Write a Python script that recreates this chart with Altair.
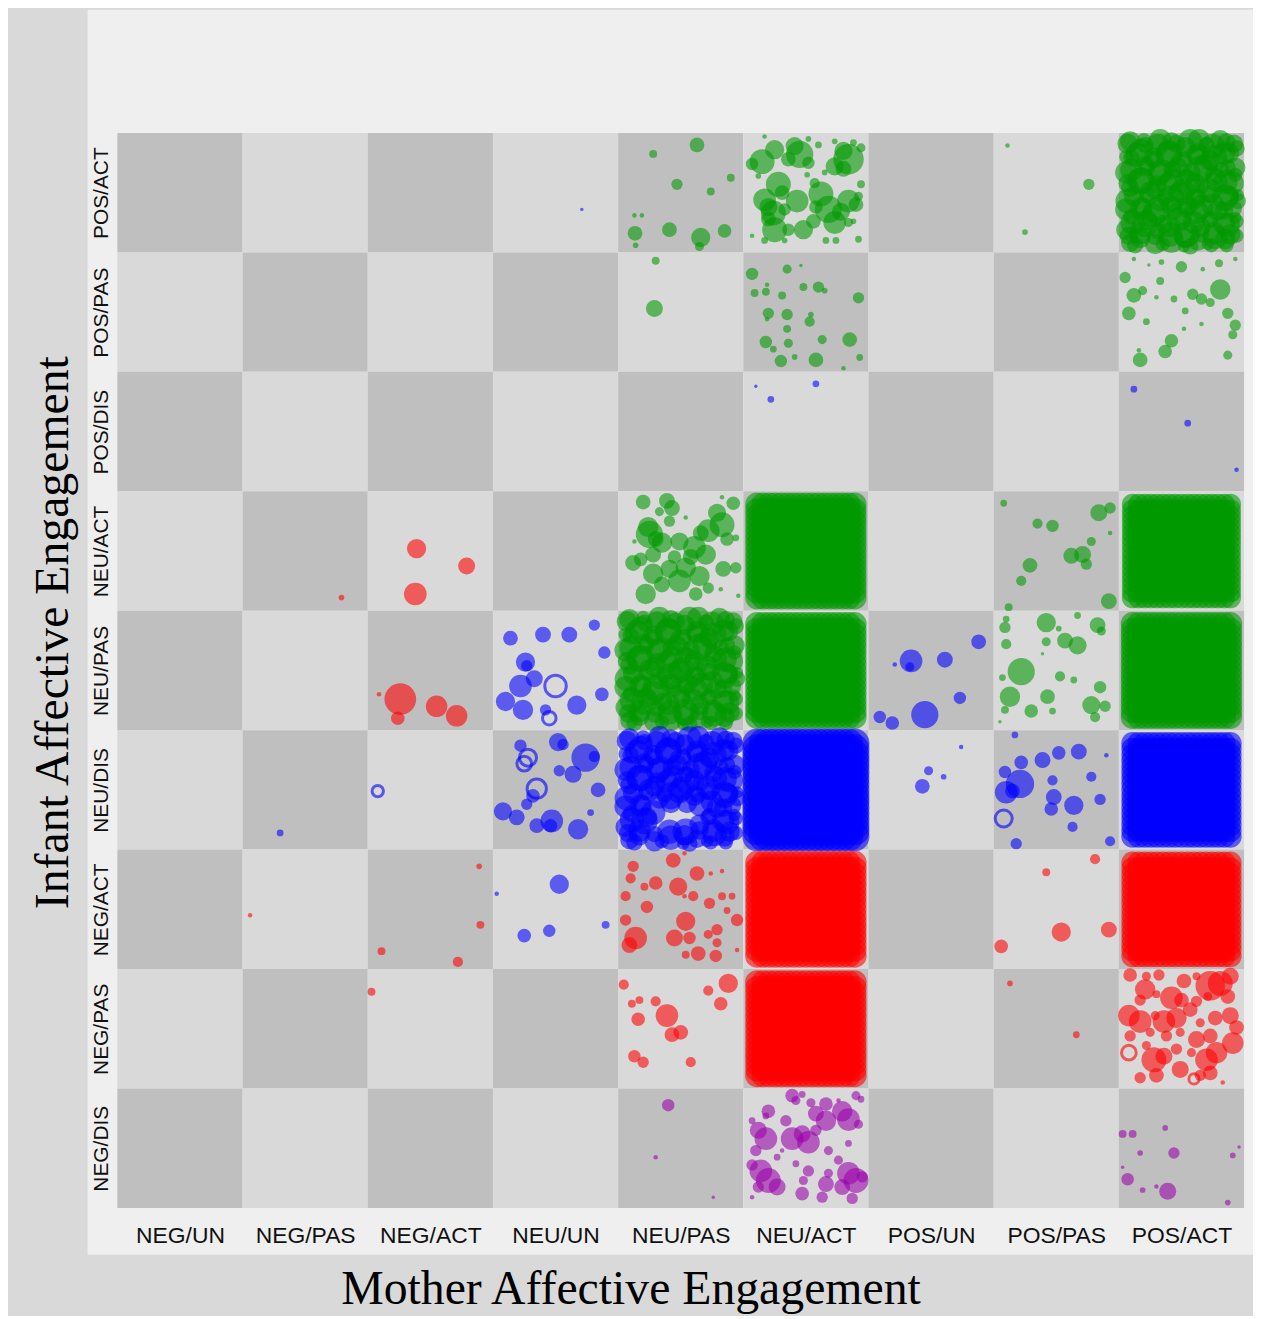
import altair as alt
import pandas as pd

# ---------------- data ----------------
MOTHER = ["NEG/UN", "NEG/PAS", "NEG/ACT", "NEU/UN", "NEU/PAS", "NEU/ACT",
          "POS/UN", "POS/PAS", "POS/ACT"]
# infant categories, top row first
INFANT = ["POS/ACT", "POS/PAS", "POS/DIS", "NEU/ACT", "NEU/PAS", "NEU/DIS",
          "NEG/ACT", "NEG/PAS", "NEG/DIS"]
GROUPS = ["green", "blue", "red", "purple"]
GROUP_COLORS = ["#009a00", "#0000ff", "#ff0000", "#9a00aa"]

# (mother, infant, group, [(jitter_x, jitter_y, weight), ...])
SPARSE = [
    ("NEU/UN", "POS/ACT", "blue", [(0.71, 0.64, 3)]),
    ("NEU/PAS", "POS/ACT", "green", [
        (0.63, 0.10, 13), (0.28, 0.175, 7), (0.47, 0.43, 10), (0.90, 0.375, 7),
        (0.74, 0.49, 7), (0.13, 0.69, 4), (0.19, 0.69, 4), (0.135, 0.84, 13),
        (0.41, 0.81, 13), (0.66, 0.875, 17), (0.65, 0.95, 8), (0.85, 0.82, 12),
        (0.14, 0.94, 5)]),
    ("NEU/ACT", "POS/ACT", "green", [
        (0.15, 0.24, 22), (0.25, 0.14, 17), (0.45, 0.18, 24), (0.41, 0.11, 16),
        (0.84, 0.22, 27), (0.80, 0.15, 16), (0.73, 0.28, 16), (0.28, 0.43, 22),
        (0.17, 0.56, 20), (0.24, 0.67, 22), (0.25, 0.81, 22), (0.43, 0.57, 20),
        (0.48, 0.81, 17), (0.62, 0.51, 22), (0.68, 0.64, 24), (0.73, 0.75, 20),
        (0.84, 0.57, 20), (0.90, 0.60, 13), (0.36, 0.81, 11), (0.56, 0.74, 13),
        (0.07, 0.26, 11), (0.36, 0.22, 13), (0.52, 0.25, 11), (0.57, 0.42, 9),
        (0.31, 0.50, 13), (0.20, 0.72, 13), (0.33, 0.64, 11), (0.17, 0.03, 4),
        (0.52, 0.05, 5), (0.60, 0.10, 6), (0.73, 0.07, 5), (0.88, 0.08, 6),
        (0.94, 0.125, 8), (0.12, 0.36, 5), (0.51, 0.35, 5), (0.65, 0.33, 5),
        (0.94, 0.43, 7), (0.88, 0.74, 5), (0.07, 0.86, 4), (0.66, 0.90, 6),
        (0.74, 0.90, 6), (0.92, 0.89, 6), (0.17, 0.90, 6), (0.33, 0.90, 5),
        (0.84, 0.75, 8), (0.92, 0.53, 8), (0.20, 0.62, 16), (0.78, 0.66, 16),
        (0.58, 0.62, 12), (0.80, 0.30, 14)]),
    ("POS/PAS", "POS/ACT", "green", [(0.11, 0.105, 4), (0.76, 0.43, 10), (0.25, 0.83, 5)]),
    ("NEU/PAS", "POS/PAS", "green", [(0.30, 0.07, 7), (0.29, 0.47, 15)]),
    ("NEU/ACT", "POS/PAS", "green", [
        (0.07, 0.18, 11), (0.35, 0.14, 8), (0.46, 0.11, 3), (0.19, 0.27, 4),
        (0.18, 0.33, 7), (0.09, 0.34, 7), (0.31, 0.36, 7), (0.48, 0.29, 7),
        (0.60, 0.29, 10), (0.65, 0.32, 5), (0.92, 0.38, 10), (0.20, 0.51, 10),
        (0.35, 0.52, 10), (0.54, 0.52, 5), (0.53, 0.58, 9), (0.19, 0.56, 4),
        (0.35, 0.64, 7), (0.18, 0.75, 11), (0.36, 0.76, 8), (0.24, 0.81, 6),
        (0.63, 0.73, 8), (0.85, 0.73, 13), (0.30, 0.91, 11), (0.41, 0.875, 5),
        (0.58, 0.90, 13), (0.80, 0.97, 4), (0.93, 0.88, 6)]),
    ("POS/ACT", "POS/PAS", "green", [
        (0.12, 0.055, 4), (0.24, 0.105, 3), (0.34, 0.08, 5), (0.50, 0.12, 10),
        (0.67, 0.14, 4), (0.80, 0.09, 7), (0.93, 0.055, 4), (0.05, 0.21, 10),
        (0.33, 0.24, 7), (0.12, 0.36, 13), (0.19, 0.32, 8), (0.30, 0.375, 4),
        (0.44, 0.39, 6), (0.53, 0.49, 6), (0.59, 0.35, 10), (0.66, 0.39, 10),
        (0.73, 0.42, 8), (0.81, 0.31, 18), (0.87, 0.51, 10), (0.93, 0.61, 10),
        (0.91, 0.69, 8), (0.08, 0.51, 12), (0.22, 0.58, 6), (0.52, 0.64, 4),
        (0.66, 0.60, 4), (0.42, 0.74, 12), (0.37, 0.83, 12), (0.16, 0.82, 4),
        (0.17, 0.90, 13), (0.87, 0.86, 8)]),
    ("NEU/ACT", "POS/DIS", "blue", [(0.10, 0.12, 3), (0.22, 0.23, 6), (0.58, 0.10, 6)]),
    ("POS/ACT", "POS/DIS", "blue", [(0.12, 0.145, 6), (0.55, 0.43, 6), (0.94, 0.82, 4)]),
    ("NEG/PAS", "NEU/ACT", "red", [(0.79, 0.89, 5)]),
    ("NEG/ACT", "NEU/ACT", "red", [(0.39, 0.48, 17), (0.79, 0.625, 15), (0.38, 0.86, 20)]),
    ("NEU/PAS", "NEU/ACT", "green", [
        (0.20, 0.09, 13), (0.39, 0.08, 14), (0.43, 0.14, 14), (0.33, 0.17, 8),
        (0.92, 0.10, 12), (0.83, 0.05, 4), (0.54, 0.22, 4), (0.79, 0.18, 16),
        (0.83, 0.28, 22), (0.72, 0.33, 20), (0.66, 0.35, 14), (0.41, 0.25, 10),
        (0.25, 0.36, 24), (0.35, 0.43, 18), (0.49, 0.42, 16), (0.61, 0.47, 20),
        (0.70, 0.53, 18), (0.87, 0.40, 12), (0.94, 0.39, 6), (0.13, 0.42, 4),
        (0.12, 0.60, 14), (0.18, 0.57, 12), (0.28, 0.69, 18), (0.41, 0.65, 16),
        (0.54, 0.64, 18), (0.65, 0.71, 18), (0.49, 0.75, 20), (0.35, 0.78, 14),
        (0.22, 0.86, 18), (0.62, 0.86, 12), (0.72, 0.81, 10), (0.84, 0.65, 14),
        (0.94, 0.64, 10), (0.82, 0.82, 4), (0.96, 0.875, 4), (0.28, 0.53, 14),
        (0.24, 0.30, 18), (0.30, 0.40, 14), (0.58, 0.55, 14), (0.45, 0.55, 12)]),
    ("POS/PAS", "NEU/ACT", "green", [
        (0.08, 0.10, 6), (0.35, 0.27, 9), (0.47, 0.29, 11), (0.84, 0.18, 15),
        (0.93, 0.14, 10), (0.93, 0.35, 4), (0.78, 0.42, 8), (0.62, 0.54, 14),
        (0.71, 0.53, 15), (0.74, 0.61, 10), (0.29, 0.62, 13), (0.22, 0.75, 9),
        (0.12, 0.97, 7), (0.92, 0.92, 14)]),
    ("NEG/ACT", "NEU/PAS", "red", [(0.26, 0.74, 28), (0.24, 0.90, 12), (0.09, 0.70, 4),
                                   (0.55, 0.80, 19), (0.71, 0.88, 19)]),
    ("NEU/UN", "NEU/PAS", "blue", [
        (0.14, 0.23, 13), (0.40, 0.20, 14), (0.61, 0.20, 14), (0.81, 0.12, 10),
        (0.89, 0.35, 11), (0.26, 0.43, 17), (0.27, 0.46, 10), (0.33, 0.57, 15),
        (0.22, 0.63, 20), (0.10, 0.76, 17), (0.24, 0.83, 18), (0.42, 0.83, 10),
        (0.67, 0.79, 17), (0.87, 0.70, 12)]),
    ("POS/UN", "NEU/PAS", "blue", [
        (0.88, 0.26, 13), (0.34, 0.42, 20), (0.33, 0.47, 8), (0.61, 0.41, 14),
        (0.21, 0.45, 4), (0.73, 0.73, 11), (0.45, 0.87, 24), (0.09, 0.89, 11),
        (0.19, 0.94, 12)]),
    ("POS/PAS", "NEU/PAS", "green", [
        (0.10, 0.07, 6), (0.09, 0.14, 10), (0.42, 0.10, 17), (0.52, 0.15, 5),
        (0.67, 0.04, 6), (0.83, 0.12, 14), (0.86, 0.17, 8), (0.10, 0.28, 9),
        (0.42, 0.26, 8), (0.57, 0.25, 14), (0.67, 0.29, 16), (0.39, 0.36, 3),
        (0.22, 0.51, 24), (0.07, 0.56, 6), (0.53, 0.55, 9), (0.64, 0.58, 6),
        (0.85, 0.64, 11), (0.13, 0.72, 18), (0.43, 0.72, 13), (0.09, 0.83, 7),
        (0.30, 0.84, 12), (0.47, 0.84, 6), (0.78, 0.79, 16), (0.89, 0.80, 10),
        (0.81, 0.89, 9), (0.05, 0.93, 3)]),
    ("NEG/PAS", "NEU/DIS", "blue", [(0.30, 0.86, 6)]),
    ("NEU/UN", "NEU/DIS", "blue", [
        (0.22, 0.13, 11), (0.52, 0.10, 16), (0.56, 0.12, 10), (0.74, 0.23, 25),
        (0.81, 0.22, 10), (0.53, 0.34, 10), (0.64, 0.37, 15), (0.32, 0.55, 12),
        (0.27, 0.62, 10), (0.84, 0.50, 13), (0.08, 0.68, 16), (0.19, 0.73, 14),
        (0.35, 0.80, 13), (0.47, 0.76, 20), (0.46, 0.80, 12), (0.68, 0.83, 18),
        (0.78, 0.69, 6)]),
    ("POS/UN", "NEU/DIS", "blue", [(0.74, 0.14, 4), (0.48, 0.34, 8), (0.60, 0.39, 5),
                                   (0.43, 0.47, 13)]),
    ("POS/PAS", "NEU/DIS", "blue", [
        (0.17, 0.04, 6), (0.52, 0.19, 12), (0.68, 0.18, 14), (0.90, 0.21, 4),
        (0.22, 0.27, 12), (0.39, 0.25, 14), (0.09, 0.35, 11), (0.47, 0.42, 9),
        (0.78, 0.39, 9), (0.21, 0.45, 25), (0.10, 0.52, 20), (0.15, 0.51, 13),
        (0.48, 0.56, 14), (0.64, 0.63, 17), (0.85, 0.58, 10), (0.46, 0.66, 12),
        (0.63, 0.81, 9), (0.18, 0.95, 10), (0.93, 0.93, 9)]),
    ("NEG/PAS", "NEG/ACT", "red", [(0.06, 0.55, 4)]),
    ("NEG/ACT", "NEG/ACT", "red", [(0.89, 0.14, 5), (0.90, 0.63, 7), (0.11, 0.85, 7),
                                   (0.72, 0.94, 9)]),
    ("NEU/UN", "NEG/ACT", "blue", [(0.53, 0.29, 17), (0.03, 0.37, 4), (0.25, 0.72, 12),
                                   (0.45, 0.68, 11), (0.90, 0.63, 7)]),
    ("NEU/PAS", "NEG/ACT", "red", [
        (0.12, 0.14, 10), (0.10, 0.24, 9), (0.44, 0.09, 13), (0.53, 0.03, 4),
        (0.21, 0.31, 7), (0.30, 0.28, 12), (0.48, 0.31, 16), (0.63, 0.20, 13),
        (0.74, 0.20, 4), (0.83, 0.18, 4), (0.06, 0.39, 9), (0.23, 0.48, 11),
        (0.53, 0.39, 4), (0.60, 0.39, 9), (0.73, 0.45, 10), (0.83, 0.39, 7),
        (0.91, 0.39, 6), (0.87, 0.51, 6), (0.95, 0.59, 11), (0.54, 0.60, 17),
        (0.06, 0.59, 10), (0.14, 0.74, 20), (0.09, 0.80, 14), (0.45, 0.74, 15),
        (0.57, 0.74, 11), (0.79, 0.67, 10), (0.72, 0.71, 8), (0.79, 0.78, 8),
        (0.64, 0.87, 13), (0.78, 0.89, 11), (0.54, 0.88, 7), (0.95, 0.84, 4)]),
    ("POS/PAS", "NEG/ACT", "red", [(0.81, 0.08, 9), (0.42, 0.19, 7), (0.54, 0.69, 17),
                                   (0.92, 0.67, 14), (0.06, 0.81, 12)]),
    ("NEG/ACT", "NEG/PAS", "red", [(0.03, 0.19, 7)]),
    ("NEU/PAS", "NEG/PAS", "red", [
        (0.045, 0.13, 9), (0.11, 0.29, 7), (0.17, 0.26, 7), (0.30, 0.27, 9),
        (0.16, 0.42, 12), (0.39, 0.39, 20), (0.43, 0.55, 13), (0.50, 0.53, 13),
        (0.72, 0.18, 9), (0.88, 0.12, 17), (0.82, 0.29, 12), (0.13, 0.73, 11),
        (0.20, 0.78, 10), (0.58, 0.78, 9)]),
    ("POS/PAS", "NEG/PAS", "red", [(0.13, 0.12, 5), (0.66, 0.55, 6)]),
    ("POS/ACT", "NEG/PAS", "red", [
        (0.09, 0.05, 12), (0.22, 0.06, 8), (0.32, 0.05, 10), (0.52, 0.10, 13),
        (0.62, 0.06, 7), (0.73, 0.14, 26), (0.81, 0.12, 22), (0.89, 0.06, 15),
        (0.21, 0.17, 18), (0.30, 0.21, 7), (0.17, 0.26, 10), (0.42, 0.24, 20),
        (0.50, 0.26, 13), (0.62, 0.27, 10), (0.71, 0.23, 8), (0.87, 0.23, 13),
        (0.08, 0.39, 19), (0.17, 0.44, 20), (0.29, 0.39, 8), (0.36, 0.44, 20),
        (0.46, 0.41, 18), (0.57, 0.34, 13), (0.65, 0.45, 8), (0.77, 0.41, 13),
        (0.89, 0.39, 15), (0.94, 0.49, 13), (0.09, 0.56, 10), (0.25, 0.53, 8),
        (0.38, 0.56, 10), (0.49, 0.53, 8), (0.62, 0.59, 15), (0.73, 0.56, 13),
        (0.91, 0.62, 19), (0.28, 0.76, 22), (0.36, 0.73, 15), (0.22, 0.64, 8),
        (0.46, 0.67, 10), (0.58, 0.70, 8), (0.70, 0.76, 20), (0.78, 0.70, 19),
        (0.17, 0.91, 10), (0.30, 0.89, 13), (0.49, 0.84, 15), (0.73, 0.87, 13),
        (0.83, 0.95, 4), (0.65, 0.89, 10)]),
    ("NEU/PAS", "NEG/DIS", "purple", [(0.40, 0.14, 11), (0.30, 0.575, 4), (0.76, 0.91, 3)]),
    ("NEU/ACT", "NEG/DIS", "purple", [
        (0.39, 0.06, 12), (0.47, 0.05, 6), (0.42, 0.10, 8), (0.54, 0.12, 8),
        (0.66, 0.13, 12), (0.76, 0.10, 4), (0.90, 0.06, 8), (0.94, 0.09, 6),
        (0.20, 0.19, 12), (0.18, 0.23, 6), (0.07, 0.27, 6), (0.34, 0.27, 10),
        (0.58, 0.21, 14), (0.66, 0.27, 18), (0.79, 0.19, 18), (0.84, 0.26, 20),
        (0.92, 0.30, 8), (0.12, 0.35, 15), (0.18, 0.42, 20), (0.10, 0.52, 10),
        (0.39, 0.42, 20), (0.47, 0.38, 15), (0.52, 0.45, 20), (0.58, 0.35, 10),
        (0.68, 0.52, 8), (0.84, 0.46, 6), (0.27, 0.575, 6), (0.07, 0.64, 10),
        (0.14, 0.69, 20), (0.20, 0.77, 22), (0.27, 0.825, 15), (0.12, 0.825, 10),
        (0.42, 0.63, 6), (0.52, 0.69, 10), (0.48, 0.77, 8), (0.68, 0.71, 8),
        (0.66, 0.80, 14), (0.84, 0.71, 20), (0.90, 0.77, 22), (0.79, 0.825, 14),
        (0.95, 0.74, 10), (0.63, 0.91, 10), (0.47, 0.88, 12), (0.87, 0.92, 10),
        (0.07, 0.91, 4), (0.31, 0.52, 4), (0.76, 0.60, 8)]),
    ("POS/ACT", "NEG/DIS", "purple", [
        (0.03, 0.38, 7), (0.11, 0.38, 7), (0.37, 0.33, 5), (0.17, 0.54, 5),
        (0.44, 0.54, 10), (0.91, 0.56, 5), (0.96, 0.49, 3), (0.03, 0.66, 3),
        (0.07, 0.76, 11), (0.19, 0.85, 5), (0.39, 0.86, 15), (0.30, 0.82, 4),
        (0.87, 0.955, 5)]),
]

# open (ring) points: (mother, infant, group, [(jitter_x, jitter_y, weight), ...])
OPEN = [
    ("NEU/UN", "NEU/PAS", "blue", [(0.50, 0.63, 19), (0.45, 0.90, 12)]),
    ("NEG/ACT", "NEU/DIS", "blue", [(0.08, 0.51, 10)]),
    ("NEU/UN", "NEU/DIS", "blue", [(0.28, 0.23, 15), (0.25, 0.28, 13), (0.35, 0.49, 17)]),
    ("POS/PAS", "NEU/DIS", "blue", [(0.08, 0.74, 15)]),
    ("POS/ACT", "NEG/PAS", "red", [(0.08, 0.70, 13), (0.60, 0.92, 9)]),
]

# saturated cells (thousands of overlapping points): (mother, infant, group, weight)
SATURATED = [
    ("NEU/ACT", "NEU/ACT", "green", 21), ("NEU/ACT", "NEU/PAS", "green", 21),
    ("NEU/ACT", "NEU/DIS", "blue", 26), ("NEU/ACT", "NEG/ACT", "red", 21),
    ("NEU/ACT", "NEG/PAS", "red", 21), ("POS/ACT", "NEU/ACT", "green", 19),
    ("POS/ACT", "NEU/PAS", "green", 21), ("POS/ACT", "NEU/DIS", "blue", 20),
    ("POS/ACT", "NEG/ACT", "red", 20),
]
SAT_JITTER = [0.11, 0.1585, 0.207, 0.2555, 0.304, 0.3525, 0.401, 0.4495, 0.50,
              0.5505, 0.599, 0.6475, 0.696, 0.7445, 0.793, 0.8415, 0.89]

# crowded (but not saturated) cells use this jitter cloud: (jitter_x, jitter_y, weight)
CLOUD = [
    (0.09, 0.07, 20), (0.21, 0.10, 16), (0.33, 0.06, 22), (0.46, 0.09, 18), (0.57, 0.07, 24),
    (0.70, 0.10, 16), (0.81, 0.06, 20), (0.92, 0.09, 18),
    (0.06, 0.20, 14), (0.15, 0.18, 24), (0.28, 0.21, 20), (0.40, 0.17, 26), (0.52, 0.22, 16),
    (0.63, 0.18, 22), (0.76, 0.21, 26), (0.88, 0.17, 20),
    (0.10, 0.31, 22), (0.22, 0.28, 16), (0.34, 0.32, 24), (0.47, 0.29, 20), (0.58, 0.33, 18),
    (0.69, 0.28, 24), (0.82, 0.31, 16), (0.93, 0.29, 20),
    (0.07, 0.42, 18), (0.18, 0.40, 26), (0.31, 0.43, 18), (0.43, 0.39, 22), (0.55, 0.42, 26),
    (0.66, 0.44, 16), (0.78, 0.40, 22), (0.90, 0.42, 24),
    (0.12, 0.53, 20), (0.25, 0.50, 22), (0.37, 0.54, 16), (0.49, 0.51, 24), (0.61, 0.55, 20),
    (0.73, 0.51, 18), (0.85, 0.54, 26), (0.95, 0.52, 12),
    (0.06, 0.64, 22), (0.19, 0.62, 18), (0.30, 0.65, 26), (0.42, 0.61, 20), (0.54, 0.64, 16),
    (0.66, 0.62, 24), (0.79, 0.65, 20), (0.91, 0.63, 18),
    (0.11, 0.75, 24), (0.23, 0.73, 20), (0.36, 0.76, 18), (0.48, 0.72, 24), (0.60, 0.75, 22),
    (0.72, 0.73, 16), (0.84, 0.76, 22), (0.94, 0.74, 14),
    (0.08, 0.86, 18), (0.17, 0.84, 22), (0.29, 0.87, 16), (0.41, 0.85, 24), (0.53, 0.88, 20),
    (0.65, 0.84, 18), (0.77, 0.87, 24), (0.89, 0.85, 20),
    (0.13, 0.94, 16), (0.35, 0.93, 14), (0.57, 0.95, 16), (0.71, 0.93, 12), (0.86, 0.94, 14),
]
# (mother, infant, group, weight factor, empty region x0, x1, y0, y1)
CROWDED = [
    ("POS/ACT", "POS/ACT", "green", 0.9, 0.0, 0.0, 0.0, 0.0),
    ("NEU/PAS", "NEU/PAS", "green", 0.9, 0.0, 0.0, 0.0, 0.0),
    ("NEU/PAS", "NEU/DIS", "blue", 0.9, 0.30, 0.62, 0.62, 0.84),
]

# ---------------- tables ----------------
pts, rings = [], []
for m, i, g, lst in SPARSE:
    for dx, dy, w in lst:
        pts.append({"x": MOTHER.index(m) + dx, "y": INFANT.index(i) + dy, "w": w, "grp": g})
for m, i, g, w in SATURATED:
    for dy in SAT_JITTER:
        for dx in SAT_JITTER:
            pts.append({"x": MOTHER.index(m) + dx, "y": INFANT.index(i) + dy, "w": w, "grp": g})
for m, i, g, f, x0, x1, y0, y1 in CROWDED:
    # the cloud is used twice (second time transposed) to reach the observed density
    for a, b, w in CLOUD:
        for dx, dy in ((a, b), (b, a)):
            if x0 <= dx <= x1 and y0 <= dy <= y1:
                continue
            pts.append({"x": MOTHER.index(m) + dx, "y": INFANT.index(i) + dy,
                        "w": w * f, "grp": g})
for m, i, g, lst in OPEN:
    for dx, dy, w in lst:
        rings.append({"x": MOTHER.index(m) + dx, "y": INFANT.index(i) + dy, "w": w, "grp": g})

cells = []
for r in range(len(INFANT)):
    for c in range(len(MOTHER)):
        cells.append({"x": c, "x2": c + 1, "y": r, "y2": r + 1,
                      "shade": "dark" if (r + c) % 2 == 0 else "light"})

df_pts = pd.DataFrame(pts)
df_rings = pd.DataFrame(rings)
df_cells = pd.DataFrame(cells)

# ---------------- chart ----------------
W, H = 1133, 1081
label_font = "Liberation Sans"

mother_expr = "[" + ",".join("'%s'" % s for s in MOTHER) + "][floor(datum.value)]"
infant_expr = "[" + ",".join("'%s'" % s for s in INFANT) + "][floor(datum.value)]"

x_axis = alt.Axis(values=[k + 0.5 for k in range(9)], labelExpr=mother_expr,
                  title="Mother Affective Engagement", grid=False, domain=False,
                  ticks=False, tickSize=0, labelPadding=35, labelBaseline="alphabetic",
                  labelFont=label_font, labelFontSize=23, labelColor="#111111",
                  labelOverlap=False, labelFlush=False, zindex=1,
                  titleFont="Liberation Serif", titleFontSize=48, titleFontWeight="normal",
                  titleColor="#000000", titleX=516, titleY=96, titleAlign="center",
                  titleBaseline="alphabetic")
y_axis = alt.Axis(values=[k + 0.5 for k in range(9)], labelExpr=infant_expr,
                  title="Infant Affective Engagement", grid=False, domain=False,
                  ticks=False, tickSize=0, labelPadding=10, labelAngle=270,
                  labelAlign="center", labelBaseline="alphabetic",
                  labelFont=label_font, labelFontSize=21, labelColor="#111111",
                  labelOverlap=False, labelFlush=False, zindex=1,
                  titleFont="Liberation Serif", titleFontSize=48, titleFontWeight="normal",
                  titleColor="#000000", titleAngle=270, titleX=-50, titleY=502,
                  titleAlign="center", titleBaseline="alphabetic")

sx = alt.Scale(domain=[0, 9], nice=False, zero=False)
sy = alt.Scale(domain=[0, 9], nice=False, zero=False, reverse=True)
size_scale = alt.Scale(type="pow", exponent=2, domain=[0, 30], range=[0, 1170])
color_scale = alt.Scale(domain=GROUPS, range=GROUP_COLORS)

panel = alt.Chart(pd.DataFrame({"k": [0]})).mark_rect(color="#efefef").encode(
    x=alt.value(-30), x2=alt.value(W + 9), y=alt.value(-124), y2=alt.value(H + 47))

board = alt.Chart(df_cells).mark_rect().encode(
    x=alt.X("x:Q", scale=sx, axis=x_axis), x2="x2:Q",
    y=alt.Y("y:Q", scale=sy, axis=y_axis), y2="y2:Q",
    color=alt.Color("shade:N", scale=alt.Scale(domain=["dark", "light"],
                                               range=["#bfbfbf", "#d9d9d9"]), legend=None))

dots = alt.Chart(df_pts).mark_circle(opacity=0.58, stroke=None).encode(
    x=alt.X("x:Q", scale=sx, axis=x_axis),
    y=alt.Y("y:Q", scale=sy, axis=y_axis),
    size=alt.Size("w:Q", scale=size_scale, legend=None),
    color=alt.Color("grp:N", scale=color_scale, legend=None))

ring_layer = alt.Chart(df_rings).mark_point(shape="circle", filled=False, strokeWidth=3,
                                            opacity=0.6).encode(
    x=alt.X("x:Q", scale=sx, axis=x_axis),
    y=alt.Y("y:Q", scale=sy, axis=y_axis),
    size=alt.Size("w:Q", scale=size_scale, legend=None),
    color=alt.Color("grp:N", scale=color_scale, legend=None))

chart = alt.layer(panel, board, dots, ring_layer).resolve_scale(
    color="independent"
).properties(
    width=W, height=H,
    autosize=alt.AutoSizeParams(type="none"),
    padding={"left": 110, "top": 122, "right": 9, "bottom": 105},
    background="#d9d9d9",
).configure_view(stroke=None)

chart.save("out.html", embed_options={"renderer": "svg", "actions": False})
